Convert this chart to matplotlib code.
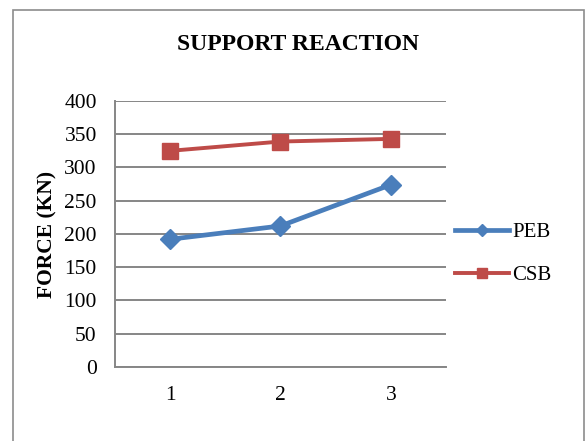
import matplotlib.pyplot as plt
from matplotlib.patches import Rectangle

# Support reaction values per case
cases = [1, 2, 3]
peb_force = [192, 212, 274]
csb_force = [325, 339, 343]
y_ticks = [0, 50, 100, 150, 200, 250, 300, 350, 400]

plt.rcParams['font.family'] = ['Liberation Serif', 'DejaVu Serif']

fig = plt.figure(figsize=(5.86, 4.41), dpi=100)
ax = fig.add_axes([0.196, 0.168, 0.565, 0.603])

grid_color = '#868686'
peb_color = '#4A7EBB'
csb_color = '#BE4B48'

ax.plot(cases, peb_force, color=peb_color, linewidth=3.4, marker='D',
        markersize=10, label='PEB', zorder=3)
ax.plot(cases, csb_force, color=csb_color, linewidth=2.8, marker='s',
        markersize=11, label='CSB', zorder=3)

ax.set_xlim(0.5, 3.5)
ax.set_ylim(0, 400)
ax.set_xticks(cases)
ax.set_yticks(y_ticks)
ax.tick_params(axis='both', length=0, labelsize=15.5)
ax.tick_params(axis='y', pad=13)
ax.tick_params(axis='x', pad=14)
ax.yaxis.grid(True, color=grid_color, linewidth=1.4)
ax.set_axisbelow(True)

for side in ['top', 'right']:
    ax.spines[side].set_visible(False)
for side in ['left', 'bottom']:
    ax.spines[side].set_color(grid_color)
    ax.spines[side].set_linewidth(1.4)

ax.set_ylabel('FORCE (KN)', fontsize=15.5, fontweight='bold', labelpad=5)
fig.text(0.508, 0.90, 'SUPPORT REACTION', ha='center', va='center',
         fontsize=17, fontweight='bold')

ax.legend(loc='center left', bbox_to_anchor=(1.0, 0.425), frameon=False,
          fontsize=15, handlelength=2.6, handletextpad=0.15, markerscale=0.6,
          labelspacing=1.1, borderaxespad=0.05)

# chart area border
fig.patches.append(Rectangle((0.022, -0.05), 0.975, 1.027, transform=fig.transFigure,
                             fill=False, edgecolor='#8C8C8C', linewidth=1.2))

fig.savefig('out.png', dpi=100)
